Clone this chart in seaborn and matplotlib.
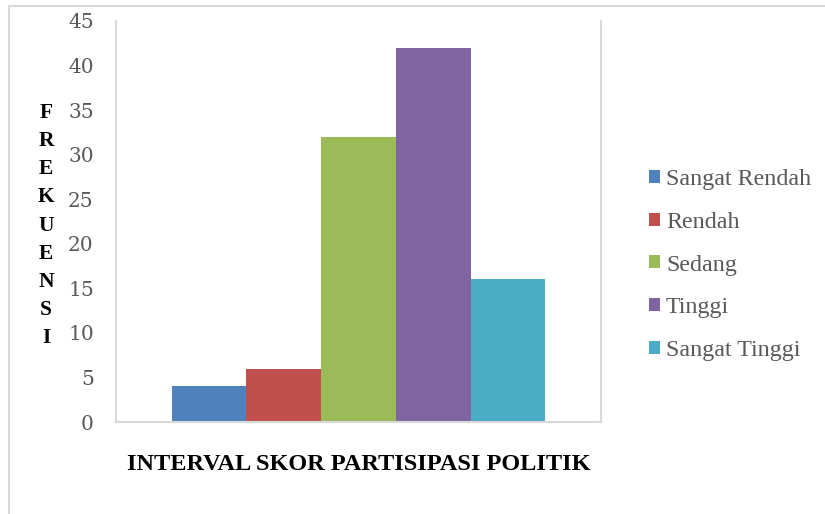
import matplotlib
matplotlib.use("Agg")
import matplotlib.pyplot as plt
import matplotlib.patches as mpatches
import seaborn as sns
import pandas as pd

# Frequency of political participation score intervals
categories = ["Sangat Rendah", "Rendah", "Sedang", "Tinggi", "Sangat Tinggi"]
frequencies = [4, 6, 32, 42, 16]
colors = ["#4F81BD", "#C0504D", "#9BBB59", "#8064A2", "#4BACC6"]
y_ticks = [0, 5, 10, 15, 20, 25, 30, 35, 40, 45]

df = pd.DataFrame({
    "group": [""] * len(categories),
    "kategori": categories,
    "frekuensi": frequencies,
})

sns.set_theme(style="white")
plt.rcParams["font.family"] = ["Liberation Serif", "DejaVu Serif"]

W, H = 825, 514
fig = plt.figure(figsize=(W / 100, H / 100), dpi=100)
ax = fig.add_axes([116 / W, 1 - 422 / H, 485 / W, 401 / H])

sns.barplot(data=df, x="group", y="frekuensi", hue="kategori",
            hue_order=categories, palette=colors, saturation=1,
            width=0.771, gap=0, linewidth=0, ax=ax, legend=True)

ax.set_xlim(-0.5, 0.5)
ax.set_ylim(0, 45)
ax.set_yticks(y_ticks)
ax.set_yticklabels([str(t) for t in y_ticks], fontsize=14.5, color="#595959",
                   family="DejaVu Serif")
ax.tick_params(axis="y", length=0, pad=16)
ax.set_xticks([])
ax.set_xlabel("INTERVAL SKOR PARTISIPASI POLITIK", fontsize=17.5,
              fontweight="bold", color="black", labelpad=23)
ax.set_ylabel("\n".join("FREKUENSI"), rotation=0, fontsize=15.5,
              fontweight="bold", color="black", linespacing=1.54,
              va="center", ha="center")
ax.yaxis.set_label_coords(-0.1443, 0.49)

for side in ["left", "right", "bottom"]:
    ax.spines[side].set_visible(True)
    ax.spines[side].set_color("#D9D9D9")
    ax.spines[side].set_linewidth(1.5)
ax.spines["top"].set_visible(False)

leg = ax.legend(loc="center left", bbox_to_anchor=(649 / W, 1 - 265 / H),
                bbox_transform=fig.transFigure, frameon=False,
                fontsize=17.3, handlelength=0.46, handleheight=0.46,
                handletextpad=0.25, labelspacing=0.9, borderaxespad=0,
                borderpad=0)
for t in leg.get_texts():
    t.set_color("#595959")

# Outer chart frame
fig.patches.append(mpatches.Rectangle((9 / W, -0.1), 2, 1 - 6 / H + 0.1,
                                      transform=fig.transFigure, fill=False,
                                      ec="#D9D9D9", lw=1.5))

fig.savefig("out.png", dpi=100)
